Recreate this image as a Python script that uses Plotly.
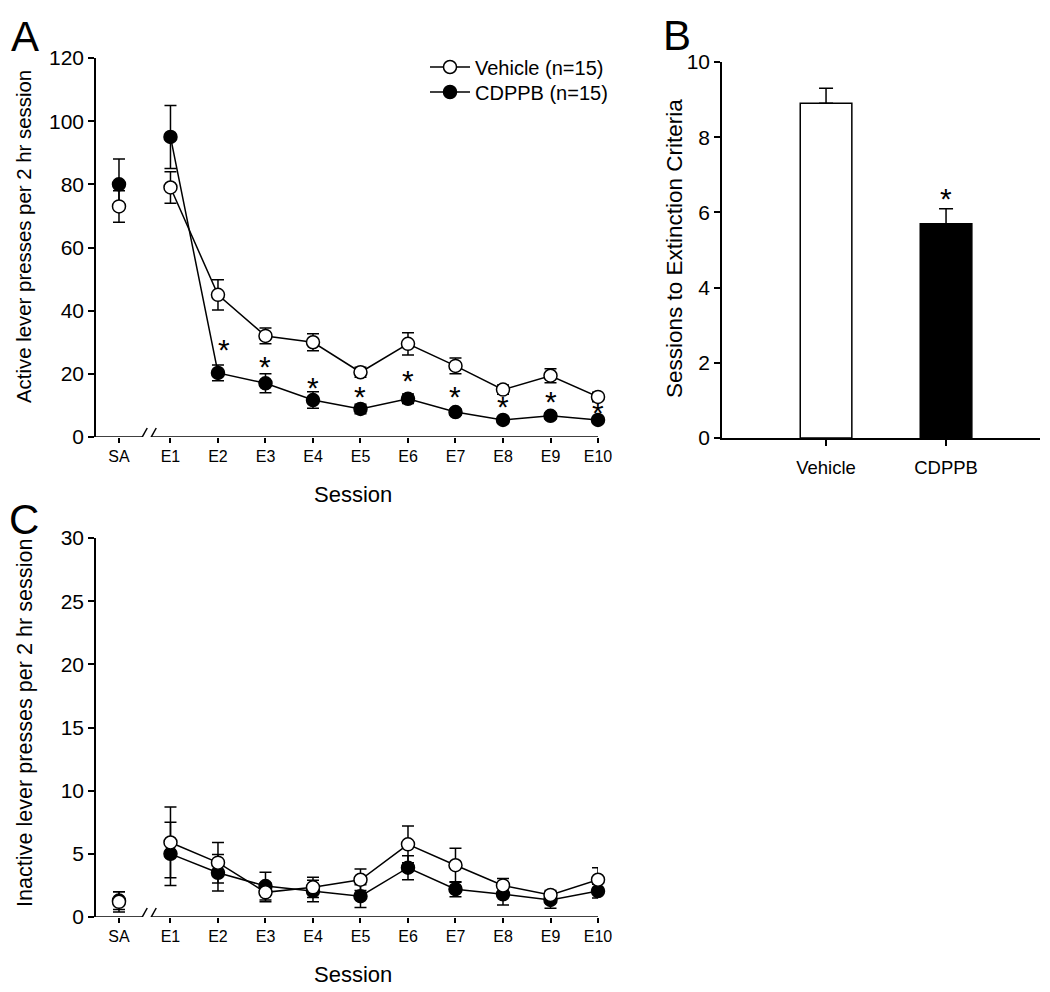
import plotly.graph_objects as go

FONT = "Arial, Liberation Sans, Helvetica, sans-serif"

# ---------------- data ----------------
sessions = ["SA", "E1", "E2", "E3", "E4", "E5", "E6", "E7", "E8", "E9", "E10"]
session_x = [-0.084, 1, 2, 3, 4, 5, 6, 7, 8, 9, 10]

# Panel A: active lever presses
active_vehicle = [73, 79, 45, 32, 30, 20.5, 29.5, 22.5, 15, 19.4, 12.7]
active_vehicle_sem = [5, 5, 4.8, 2.5, 2.7, 1.6, 3.5, 2.5, 1.5, 2.2, 1.5]
active_cdppb = [80, 95, 20.3, 17, 11.7, 8.9, 12.1, 7.9, 5.4, 6.7, 5.4]
active_cdppb_sem = [8, 10, 2.5, 3, 2.6, 1.5, 1.5, 1.0, 1.0, 1.0, 1.0]
sig_x = [2.12, 3, 4, 5, 6, 7, 8, 9, 10]
sig_y = [30, 24.5, 18, 15, 20, 15, 11.8, 13.4, 10]

# Panel B: sessions to extinction criteria
groups = ["Vehicle", "CDPPB"]
crit_mean = [8.9, 5.7]
crit_sem = [0.4, 0.4]
crit_sig_y = [6.55]

# Panel C: inactive lever presses
inactive_vehicle = [1.2, 5.9, 4.3, 1.95, 2.35, 2.95, 5.75, 4.1, 2.5, 1.75, 2.95]
inactive_vehicle_sem = [0.8, 2.8, 1.6, 0.75, 0.8, 0.85, 1.45, 1.35, 0.55, 0.35, 0.95]
inactive_cdppb = [1.3, 5.0, 3.5, 2.45, 2.05, 1.65, 3.9, 2.2, 1.8, 1.35, 2.05]
inactive_cdppb_sem = [0.7, 2.5, 1.45, 1.1, 0.85, 0.9, 0.95, 0.6, 0.85, 0.65, 0.55]

W, H = 1050, 992
OFF = 8  # page body margin


def px_x(p):
    return (p - OFF) / W


def px_y(p):
    return 1 - (p - OFF) / H


fig = go.Figure()


def add_series(xa, ya, y, err, filled, name, legend, legend_id):
    fill = "black" if filled else "white"
    common = dict(
        xaxis=xa, yaxis=ya, cliponaxis=False, hoverinfo="skip",
        marker=dict(symbol="circle", size=13, color=fill, line=dict(color="black", width=1.5)),
        line=dict(color="black", width=1.5),
    )
    # SA point (not connected)
    fig.add_trace(go.Scatter(
        x=session_x[:1], y=y[:1], mode="markers", showlegend=False,
        error_y=dict(type="data", array=err[:1], color="black", thickness=1.5, width=6),
        **common))
    # extinction sessions
    fig.add_trace(go.Scatter(
        x=session_x[1:], y=y[1:], mode="lines+markers", name=name, showlegend=legend,
        legend=legend_id,
        error_y=dict(type="data", array=err[1:], color="black", thickness=1.5, width=6),
        **common))


# Panel A
add_series("x", "y", active_cdppb, active_cdppb_sem, True, "CDPPB (n=15)", True, "legend2")
add_series("x", "y", active_vehicle, active_vehicle_sem, False, "Vehicle (n=15)", True, "legend")

# Panel B
fig.add_trace(go.Bar(
    x=[0, 1], y=crit_mean, width=0.43, xaxis="x2", yaxis="y2",
    marker=dict(color=["white", "black"], line=dict(color="black", width=1.5)),
    error_y=dict(type="data", symmetric=False, array=crit_sem, arrayminus=[0, 0],
                 color="black", thickness=1.5, width=7),
    showlegend=False, hoverinfo="skip"))

# Panel C
add_series("x3", "y3", inactive_cdppb, inactive_cdppb_sem, True, "CDPPB (n=15)", False, "legend2")
add_series("x3", "y3", inactive_vehicle, inactive_vehicle_sem, False, "Vehicle (n=15)", False, "legend")

# ---------------- axes ----------------
x_dom = [px_x(96), px_x(598)]
x_range = [-0.568, 10]
tick_common = dict(ticks="outside", ticklen=5, tickwidth=1.5, tickcolor="black",
                   showgrid=False, zeroline=False, fixedrange=True, automargin=False)

xaxis_common = dict(domain=x_dom, range=x_range, tickvals=session_x, ticktext=sessions,
                    showline=False, tickfont=dict(family=FONT, size=16, color="black"),
                    **tick_common)

legend_common = dict(xanchor="left", yanchor="middle", bgcolor="rgba(0,0,0,0)",
                     font=dict(family=FONT, size=20, color="black"), itemwidth=40,
                     itemclick=False, itemdoubleclick=False)

fig.update_layout(
    width=W, height=H, margin=dict(l=0, r=0, t=0, b=0, autoexpand=False),
    paper_bgcolor="white", plot_bgcolor="white",
    font=dict(family=FONT, color="black"),
    xaxis=dict(anchor="y", **xaxis_common),
    yaxis=dict(anchor="x", domain=[px_y(437), px_y(58)], range=[0, 120],
               tickvals=[0, 20, 40, 60, 80, 100, 120], showline=True, linewidth=1.5,
               linecolor="black", tickfont=dict(family=FONT, size=21, color="black"),
               **{**tick_common, "ticklen": 6}),
    xaxis2=dict(anchor="y2", domain=[px_x(722), px_x(1040)], range=[-0.867, 1.783],
                tickvals=[0, 1], ticktext=groups, showline=True, linewidth=1.5,
                linecolor="black", tickfont=dict(family=FONT, size=18.5, color="black"),
                ticklabelstandoff=6, **{**tick_common, "ticklen": 6}),
    yaxis2=dict(anchor="x2", domain=[px_y(438), px_y(62)], range=[0, 10],
                tickvals=[0, 2, 4, 6, 8, 10], showline=True, linewidth=1.5,
                linecolor="black", tickfont=dict(family=FONT, size=21, color="black"),
                **{**tick_common, "ticklen": 6}),
    xaxis3=dict(anchor="y3", **xaxis_common),
    yaxis3=dict(anchor="x3", domain=[px_y(917), px_y(538)], range=[0, 30],
                tickvals=[0, 5, 10, 15, 20, 25, 30], showline=True, linewidth=1.5,
                linecolor="black", tickfont=dict(family=FONT, size=21, color="black"),
                **{**tick_common, "ticklen": 6}),
    legend=dict(x=px_x(425), y=px_y(67), **legend_common),
    legend2=dict(x=px_x(425), y=px_y(92), **legend_common),
    showlegend=True,
)

# broken x-axis lines with // marks for panels A and C
shapes = []
brk = 0.5
for xr, yr in [("x", "y"), ("x3", "y3")]:
    shapes.append(dict(type="line", xref=xr, yref=yr, x0=x_range[0], x1=brk - 0.09, y0=0, y1=0,
                       line=dict(color="black", width=1.5)))
    shapes.append(dict(type="line", xref=xr, yref=yr, x0=brk + 0.09, x1=x_range[1], y0=0, y1=0,
                       line=dict(color="black", width=1.5)))
    for off in (-4.5, 4.5):
        shapes.append(dict(type="line", xref=xr, yref=yr, xsizemode="pixel", ysizemode="pixel",
                           xanchor=brk, yanchor=0, x0=off - 5, x1=off + 5, y0=-9, y1=9,
                           line=dict(color="black", width=1.5)))
fig.update_layout(shapes=shapes)

# ---------------- text annotations ----------------
ann = []

# significance asterisks
for sx, sy in zip(sig_x, sig_y):
    ann.append(dict(text="*", x=sx, y=sy, xref="x", yref="y", showarrow=False,
                    xanchor="center", yanchor="middle", yshift=-7,
                    font=dict(family=FONT, size=30, color="black")))
ann.append(dict(text="*", x=1, y=crit_sig_y[0], xref="x2", yref="y2", showarrow=False,
                xanchor="center", yanchor="middle", yshift=-7,
                font=dict(family=FONT, size=30, color="black")))


def label(text, x, y, size, angle=0):
    ann.append(dict(text=text, x=px_x(x), y=px_y(y), xref="paper", yref="paper",
                    xanchor="center", yanchor="middle", showarrow=False, textangle=angle,
                    font=dict(family=FONT, size=size, color="black")))


label("A", 25, 37, 42)
label("B", 677, 36, 42)
label("C", 24, 519, 42)
label("Active lever presses per 2 hr session", 24, 237, 20.4, -90)
label("Sessions to Extinction Criteria", 675, 249, 22.5, -90)
label("Inactive lever presses per 2 hr session", 24, 723, 21.6, -90)
label("Session", 353, 494, 22)
label("Session", 353, 974, 22)
fig.update_layout(annotations=ann)

fig.write_html("out.html")
